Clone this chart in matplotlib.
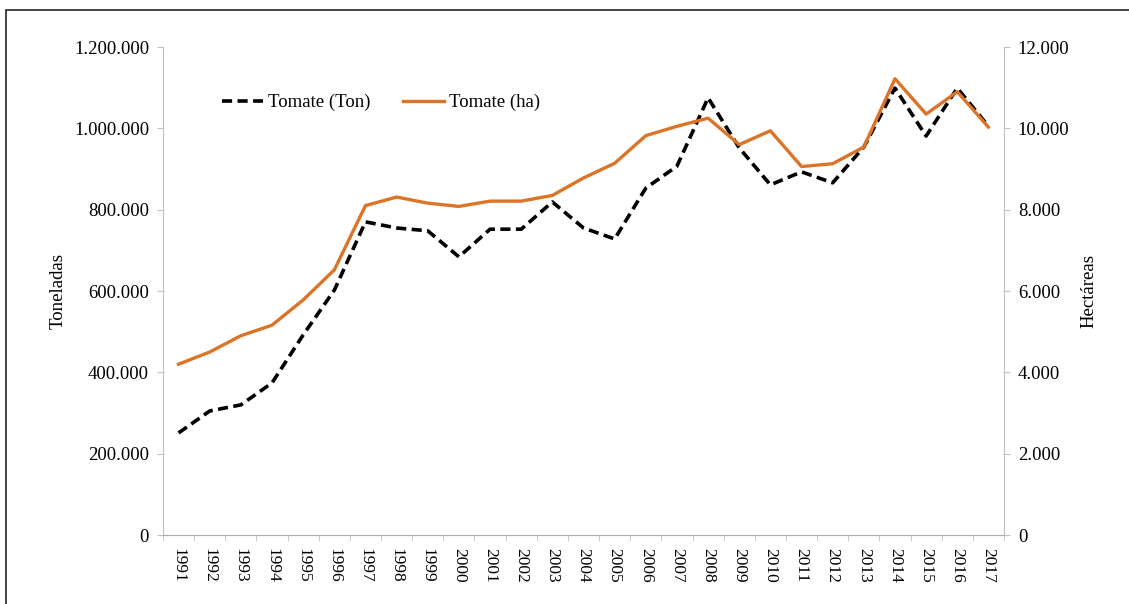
import matplotlib.pyplot as plt
from matplotlib.patches import Rectangle
from matplotlib.ticker import FuncFormatter

plt.rcParams['font.family'] = ['Liberation Serif', 'DejaVu Serif']

years = list(range(1991, 2018))
toneladas = [251000, 305000, 320000, 374000, 492000, 602000, 770000, 755000, 748000,
             684000, 752000, 752000, 819000, 755000, 728000, 853000, 907000, 1075000,
             952000, 861000, 893000, 866000, 954000, 1099000, 981000, 1099000, 1005000]
hectareas = [4200, 4500, 4900, 5160, 5780, 6520, 8100, 8310, 8160, 8080, 8210, 8210,
             8350, 8780, 9140, 9820, 10050, 10250, 9600, 9940, 9060, 9130, 9540, 11220,
             10350, 10900, 10030]

orange = '#DC7428'
gray = '#BFBFBF'


def miles(v, pos):
    return f"{int(round(v)):,}".replace(',', '.')


fig = plt.figure(figsize=(11.29, 6.04), dpi=100)
fig.patches.append(Rectangle((6 / 1129, -0.1), 1.2, 1.1 - 10 / 604,
                             transform=fig.transFigure, fill=False,
                             edgecolor='#222222', linewidth=1.2))

ax = fig.add_axes([163 / 1129, 1 - 535 / 604, (1004 - 163) / 1129, (535 - 47) / 604])
ax2 = ax.twinx()

x = list(range(len(years)))
l1, = ax.plot(x, toneladas, color='black', linewidth=2.6, dashes=(2.8, 1.5),
              label='Tomate (Ton)')
l2, = ax2.plot(x, hectareas, color=orange, linewidth=2.4, label='Tomate (ha)')

ax.set_xlim(-0.5, len(years) - 0.5)
ax.set_ylim(0, 1200000)
ax2.set_ylim(0, 12000)
ax.set_yticks(range(0, 1200001, 200000))
ax2.set_yticks(range(0, 12001, 2000))
ax.yaxis.set_major_formatter(FuncFormatter(miles))
ax2.yaxis.set_major_formatter(FuncFormatter(miles))

ax.set_xticks(x)
ax.set_xticklabels([str(y) for y in years], rotation=-90, fontsize=12.5)
ax.set_xticks([i - 0.5 for i in range(len(years) + 1)], minor=True)
ax.tick_params(axis='x', which='major', length=0, pad=9)
ax.tick_params(axis='x', which='minor', length=4, color=gray, direction='out')

for a in (ax, ax2):
    a.spines['top'].set_visible(False)
    a.tick_params(axis='y', length=4, color=gray, labelsize=13.5, pad=6)
ax.spines['left'].set_color(gray)
ax.spines['right'].set_visible(False)
ax2.spines['left'].set_visible(False)
ax2.spines['right'].set_color(gray)
ax2.spines['bottom'].set_visible(False)
ax.spines['bottom'].set_color('#AAAAAA')
ax.spines['bottom'].set_linestyle((0, (1, 1)))

ax.set_ylabel('Toneladas', fontsize=13.5, labelpad=5)
ax2.set_ylabel('Hectáreas', fontsize=13.5, rotation=90, labelpad=8)

ax.legend(handles=[l1, l2], loc='upper left', bbox_to_anchor=(0.061, 0.919), ncol=2,
          frameon=False, fontsize=13.5, handlelength=2.2, handletextpad=0.25,
          columnspacing=1.75, borderaxespad=0)

fig.savefig('out.png', dpi=100)
